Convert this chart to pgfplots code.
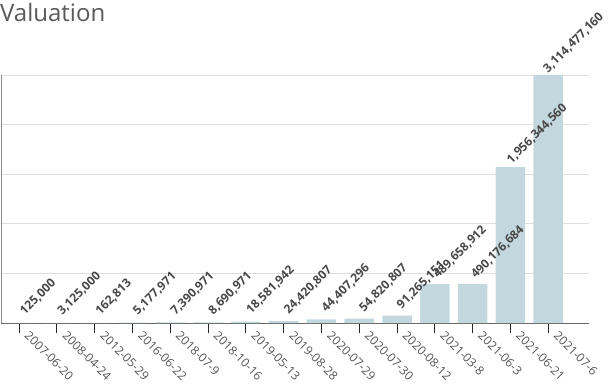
\documentclass[border=0pt]{standalone}
\usepackage{fontspec}
\setmainfont{Open Sans}
\usepackage{pgfplots}
\pgfplotsset{compat=1.18}
\definecolor{barc}{HTML}{C3D7DE}
\definecolor{titlec}{HTML}{595959}
\definecolor{labc}{HTML}{474747}
\definecolor{tickc}{HTML}{555555}
\begin{document}
\begin{tikzpicture}[x=1pt,y=1pt]
\useasboundingbox (0,0) rectangle (612,388);
\node[anchor=base west, inner sep=0, text=titlec, font=\fontsize{24}{28}\selectfont] at (0,366) {Valuation};
\begin{axis}[at={(1pt,65pt)}, anchor=south west, scale only axis, width=588pt, height=248pt,
 xmin=-0.48, xmax=15.08, ymin=0, ymax=3114477160,
 scaled y ticks=false,
 axis x line*=bottom, axis y line*=left,
 x axis line style={-, draw=black!60, line width=1pt},
 y axis line style={-, draw=black!45, line width=0.8pt},
 xtick={0,...,14},
 xticklabels={2007-06-20,2008-04-24,2012-05-29,2016-06-22,2018-07-9,2018-10-16,2019-05-13,2019-08-28,2020-07-29,2020-07-30,2020-08-12,2021-03-8,2021-06-3,2021-06-21,2021-07-6},
 x tick label style={xshift=11pt, yshift=4pt, rotate=-45, anchor=north west, font=\fontsize{12}{14}\selectfont, text=tickc, inner sep=1pt},
 major tick length=10pt, tick align=center,
 x tick style={draw=black!85, line width=1pt},
 ytick={622895432,1245790864,1868686296,2491581728,3114477160},
 yticklabels={}, y tick style={draw=none},
 ymajorgrids, grid style={draw=black!13, line width=0.8pt},
 ybar, bar width=29.5pt,
 nodes near coords, point meta=explicit symbolic,
 visualization depends on={\thisrow{d} \as \doff},
 every node near coord/.append style={xshift={(\doff+1.5)*0.707pt}, yshift={(\doff-1.5)*0.707pt}, rotate=45, anchor=south west, font=\bfseries\fontsize{12}{14}\selectfont, text=labc, inner sep=1pt},
 clip=false]
\addplot[fill=barc, draw=none] table[x=x, y=y, meta=lab] {
x y lab d
0 125000 125,000 8
1 3125000 3,125,000 7.75
2 162813 162,813 8
3 5177971 5,177,971 7.7
4 7390971 7,390,971 7.6
5 8690971 8,690,971 7.6
6 18581942 18,581,942 7.4
7 24420807 24,420,807 7.3
8 44407296 44,407,296 7.0
9 54820807 54,820,807 6.9
10 91265151 91,265,151 6.6
11 489658912 489,658,912 4.8
12 490176684 490,176,684 4.8
13 1956344560 1,956,344,560 1.7
14 3114477160 3,114,477,160 0
};
\end{axis}
\end{tikzpicture}
\end{document}
